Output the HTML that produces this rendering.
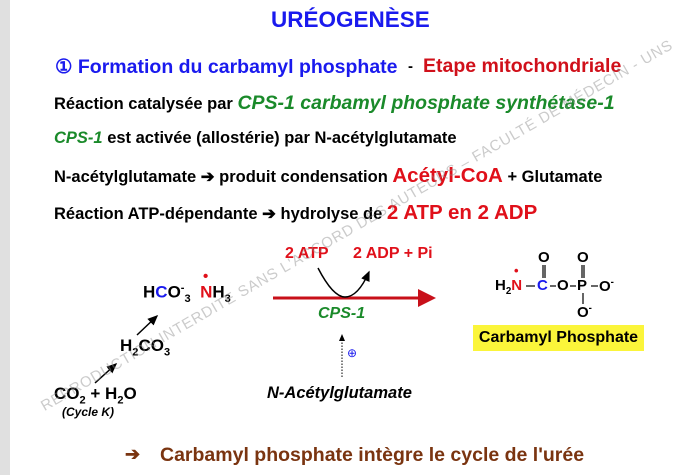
<!DOCTYPE html>
<html><head><meta charset="utf-8"><style>
body{margin:0;width:688px;height:475px;background:#fff;position:relative;overflow:hidden;font-family:"Liberation Sans",Arial,sans-serif;font-weight:bold}
.a{position:absolute;white-space:nowrap}
.bl{color:#1a1aee}.rd{color:#e0101a}.gr{color:#1a8a2a}
sub,sup{font-size:65%}
</style></head><body>
<div class="a" style="left:0;top:0;width:10px;height:475px;background:#e0e0e0"></div>
<div class="a bl" style="left:271px;top:7px;font-size:22.5px">URÉOGENÈSE</div>
<div class="a bl" style="left:55px;top:55px;font-size:19.5px">① Formation du carbamyl phosphate</div>
<div class="a" style="left:408px;top:58px;font-size:15px">-</div>
<div class="a" style="left:423px;top:55px;font-size:19.5px;color:#d0101a">Etape mitochondriale</div>
<div class="a" style="left:54px;top:92px;font-size:16.5px">Réaction catalysée par <i class="gr" style="font-size:19.5px">CPS-1 carbamyl phosphate synthétase-1</i></div>
<div class="a" style="left:54px;top:129px;font-size:16.5px"><i class="gr">CPS-1</i> est activée (allostérie) par N-acétylglutamate</div>
<div class="a" style="left:54px;top:164px;font-size:16.5px">N-acétylglutamate ➔ produit condensation <span class="rd" style="font-size:20.5px">Acétyl-CoA</span> + Glutamate</div>
<div class="a" style="left:54px;top:201px;font-size:16.5px">Réaction ATP-dépendante ➔ hydrolyse de <span class="rd" style="font-size:20.5px">2 ATP en 2 ADP</span></div>

<div class="a" style="left:143px;top:282px;font-size:17px">H<span class="bl">C</span>O<sup>-</sup><sub>3</sub>&nbsp;&nbsp;<span class="rd">N</span>H<sub>3</sub></div>
<div class="a rd" style="left:203px;top:268px;font-size:15px">•</div>
<div class="a" style="left:120px;top:336px;font-size:17px">H<sub>2</sub>CO<sub>3</sub></div>
<div class="a" style="left:54px;top:384px;font-size:17px">CO<sub>2</sub> + H<sub>2</sub>O</div>
<div class="a" style="left:62px;top:405px;font-size:12px;font-style:italic">(Cycle K)</div>
<div class="a rd" style="left:285px;top:245px;font-size:16px">2 ATP</div>
<div class="a rd" style="left:353px;top:245px;font-size:16px">2 ADP + Pi</div>
<div class="a gr" style="left:318px;top:305px;font-size:16px;font-style:italic">CPS-1</div>
<div class="a" style="left:267px;top:384px;font-size:16.5px;font-style:italic">N-Acétylglutamate</div>
<div class="a bl" style="left:347px;top:346px;font-size:12px;font-weight:normal">⊕</div>

<svg class="a" style="left:0;top:0" width="688" height="475">
<defs><marker id="m" markerWidth="8" markerHeight="8" refX="6" refY="4" orient="auto"><path d="M0,1L7,4L0,7z" fill="#000"/></marker>
<marker id="r" markerWidth="6" markerHeight="6" refX="5" refY="3" orient="auto"><path d="M0,0L6,3L0,6z" fill="#c8101a"/></marker></defs>
<line x1="95" y1="383" x2="116" y2="364" stroke="#000" stroke-width="1.5" marker-end="url(#m)"/>
<line x1="137" y1="335" x2="157" y2="316" stroke="#000" stroke-width="1.5" marker-end="url(#m)"/>
<line x1="273" y1="298" x2="433" y2="298" stroke="#c8101a" stroke-width="3" marker-end="url(#r)"/>
<path d="M318,268 Q333,297 345,297 Q358,297 369,272" fill="none" stroke="#000" stroke-width="1.5" marker-end="url(#m)"/>
<line x1="342" y1="377" x2="342" y2="335" stroke="#000" stroke-width="1" stroke-dasharray="1.5,1.5" marker-end="url(#m)"/>
<g stroke="#000" stroke-width="1.2">
<line x1="526" y1="286" x2="535" y2="286"/><line x1="550" y1="286" x2="556" y2="286"/><line x1="570" y1="286" x2="576" y2="286"/><line x1="591" y1="286" x2="598" y2="286"/>
<line x1="543" y1="265" x2="543" y2="278"/><line x1="545" y1="265" x2="545" y2="278"/>
<line x1="582" y1="265" x2="582" y2="278"/><line x1="584" y1="265" x2="584" y2="278"/><line x1="583" y1="293" x2="583" y2="304"/>
</g>
</svg>
<div class="a" style="left:495px;top:277px;font-size:15px">H<sub>2</sub><span class="rd">N</span></div>
<div class="a rd" style="left:514px;top:263px;font-size:13px">•</div>
<div class="a bl" style="left:537px;top:277px;font-size:15px">C</div>
<div class="a" style="left:538px;top:249px;font-size:15px">O</div>
<div class="a" style="left:557px;top:277px;font-size:15px">O</div>
<div class="a" style="left:577px;top:277px;font-size:15px">P</div>
<div class="a" style="left:577px;top:249px;font-size:15px">O</div>
<div class="a" style="left:599px;top:277px;font-size:15px">O<sup>-</sup></div>
<div class="a" style="left:577px;top:303px;font-size:15px">O<sup>-</sup></div>
<div class="a" style="left:473px;top:325px;width:171px;height:26px;background:#fbf53a;font-size:16px;line-height:26px;text-align:center">Carbamyl Phosphate</div>

<div class="a" style="left:125px;top:444px;font-size:18px;color:#7a3410">➔</div>
<div class="a" style="left:160px;top:444px;font-size:19.5px;color:#7a3410">Carbamyl phosphate intègre le cycle de l'urée</div>
<div class="a" style="left:38px;top:400px;font-size:15px;color:rgba(140,140,140,0.45);font-weight:normal;transform:rotate(-30deg);transform-origin:0 0;letter-spacing:0.8px">REPRODUCTION INTERDITE SANS L'ACCORD DES AUTEURS – FACULTÉ DE MÉDECIN - UNS</div>
</body></html>
